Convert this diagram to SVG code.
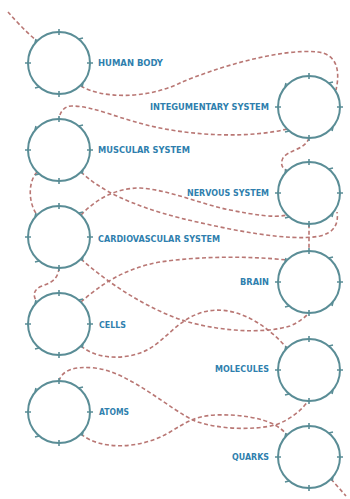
<svg xmlns="http://www.w3.org/2000/svg" xmlns:xlink="http://www.w3.org/1999/xlink" width="350" height="499" viewBox="0 0 350 499">
<style>
.lbl{font-family:"Liberation Sans Narrow","DejaVu Sans Condensed","Liberation Sans",sans-serif;font-weight:bold;font-size:9px;fill:#2f7fae;dominant-baseline:central}
.r{text-anchor:end}
.ln{fill:none;stroke:#b97774;stroke-width:1.6;stroke-dasharray:4 2.6}
.ring{fill:none;stroke:#5a8d96;stroke-width:2}
.tk{stroke:#5a8d96;stroke-width:1.6}
</style>
<defs>
<g id="ringshape">
<circle class="ring" r="31"/>
<path class="tk" d="M0,-34V-28M0,28V34M-34,0H-28M28,0H34M20,-24l4,-1M-24,-20l1,-4M-20,24l-4,1M24,20l-1,4"/>
</g>
</defs>
<rect width="350" height="499" fill="#ffffff"/>
<g id="connectors">
<path class="ln" d="M8,12 C16,21 26,32 37,41"/>
<path class="ln" d="M81,86 C100,98 145,100 180,83 C215,68 280,48 318,52 C335,54 341,68 336,90"/>
<path class="ln" d="M287,129 C250,138 200,136 160,128 C120,120 95,106 72,106 C64,106 60,112 59,119"/>
<path class="ln" d="M309,138 C305,150 288,150 283,158 C280,164 282,168 287,171"/>
<path class="ln" d="M37,172 C28,182 28,202 37,215"/>
<path class="ln" d="M81,172 C100,190 130,205 180,218 C230,230 290,242 320,236 C333,233 339,225 337,212"/>
<path class="ln" d="M81,215 C95,200 115,188 140,188 C170,190 200,204 230,210 C255,215 275,218 287,215"/>
<path class="ln" d="M309,224 C309,235 309,242 309,251"/>
<path class="ln" d="M59,268 C58,280 50,283 42,286 C34,289 32,295 37,302"/>
<path class="ln" d="M81,259 C110,285 150,310 185,321 C215,330 260,335 290,326 C300,322 306,316 309,313"/>
<path class="ln" d="M81,302 C100,285 125,268 160,262 C200,256 250,256 287,260"/>
<path class="ln" d="M81,346 C100,362 135,360 155,345 C170,334 180,320 200,313 C230,303 262,320 287,348"/>
<path class="ln" d="M59,381 C62,370 75,366 95,368 C130,372 170,410 195,421 C220,430 255,430 275,425 C290,420 302,410 308,401"/>
<path class="ln" d="M81,434 C100,450 140,450 170,432 C185,423 195,416 215,415 C240,414 262,418 275,425 C280,428 284,431 287,435"/>
<path class="ln" d="M331,479 L346,496"/>
</g>
<g id="human-body"><use xlink:href="#ringshape" x="59" y="63"/><text class="lbl" x="98" y="63" textLength="65" lengthAdjust="spacingAndGlyphs">HUMAN BODY</text></g>
<g id="integumentary-system"><use xlink:href="#ringshape" x="309" y="107"/><text class="lbl r" x="269" y="107" textLength="119" lengthAdjust="spacingAndGlyphs">INTEGUMENTARY SYSTEM</text></g>
<g id="muscular-system"><use xlink:href="#ringshape" x="59" y="150"/><text class="lbl" x="98" y="150" textLength="92" lengthAdjust="spacingAndGlyphs">MUSCULAR SYSTEM</text></g>
<g id="nervous-system"><use xlink:href="#ringshape" x="309" y="193"/><text class="lbl r" x="269" y="193" textLength="82" lengthAdjust="spacingAndGlyphs">NERVOUS SYSTEM</text></g>
<g id="cardiovascular-system"><use xlink:href="#ringshape" x="59" y="237"/><text class="lbl" x="98" y="239" textLength="122" lengthAdjust="spacingAndGlyphs">CARDIOVASCULAR SYSTEM</text></g>
<g id="brain"><use xlink:href="#ringshape" x="309" y="282"/><text class="lbl r" x="269" y="282" textLength="29" lengthAdjust="spacingAndGlyphs">BRAIN</text></g>
<g id="cells"><use xlink:href="#ringshape" x="59" y="324"/><text class="lbl" x="99" y="325" textLength="27" lengthAdjust="spacingAndGlyphs">CELLS</text></g>
<g id="molecules"><use xlink:href="#ringshape" x="309" y="370"/><text class="lbl r" x="269" y="369" textLength="54" lengthAdjust="spacingAndGlyphs">MOLECULES</text></g>
<g id="atoms"><use xlink:href="#ringshape" x="59" y="412"/><text class="lbl" x="99" y="412" textLength="30" lengthAdjust="spacingAndGlyphs">ATOMS</text></g>
<g id="quarks"><use xlink:href="#ringshape" x="309" y="457"/><text class="lbl r" x="269" y="457" textLength="37" lengthAdjust="spacingAndGlyphs">QUARKS</text></g>
</svg>
